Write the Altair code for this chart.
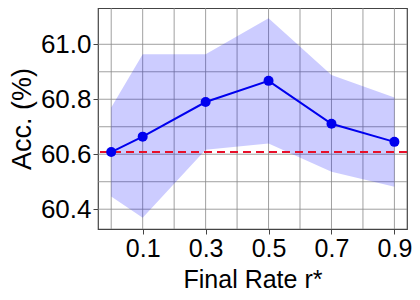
import altair as alt
import pandas as pd

rates = [0.0, 0.1, 0.3, 0.5, 0.7, 0.9]
acc = [60.608, 60.664, 60.790, 60.867, 60.711, 60.645]
upper = [60.770, 60.964, 60.964, 61.095, 60.888, 60.806]
lower = [60.446, 60.369, 60.616, 60.639, 60.536, 60.482]
baseline = 60.608

x_ticks = [0.1, 0.3, 0.5, 0.7, 0.9]
x_grid = [0.0, 0.1, 0.2, 0.3, 0.4, 0.5, 0.6, 0.7, 0.8, 0.9]
y_ticks = [60.4, 60.6, 60.8, 61.0]
y_grid = [60.4, 60.5, 60.6, 60.7, 60.8, 60.9, 61.0]

df = pd.DataFrame({"r": rates, "acc": acc, "hi": upper, "lo": lower})
gx = pd.DataFrame({"g": x_grid})
gy = pd.DataFrame({"g": y_grid})
bl = pd.DataFrame({"b": [baseline]})

xs = alt.Scale(domain=[-0.042, 0.94], nice=False, zero=False)
ys = alt.Scale(domain=[60.328, 61.132], nice=False, zero=False)

x_axis = alt.Axis(values=x_ticks, format=".1f", title="Final Rate r*", grid=False,
                  labelFontSize=25, titleFontSize=25, tickSize=5, labelPadding=2,
                  titlePadding=6, domain=False, tickColor="#444",
                  labelColor="black", titleColor="black", titleFontWeight="normal",
                  labelFont="Liberation Sans", titleFont="Liberation Sans")
y_axis = alt.Axis(values=y_ticks, format=".1f", title="Acc. (%)", grid=False,
                  labelFontSize=26, titleFontSize=27, tickSize=5, labelPadding=2,
                  titlePadding=4, domain=False, tickColor="#444",
                  labelColor="black", titleColor="black", titleFontWeight="normal",
                  labelFont="Liberation Sans", titleFont="Liberation Sans")

gridx = alt.Chart(gx).mark_rule(color="#888", strokeWidth=1, opacity=0.8).encode(
    x=alt.X("g:Q", scale=xs, axis=x_axis))
gridy = alt.Chart(gy).mark_rule(color="#888", strokeWidth=1, opacity=0.8).encode(
    y=alt.Y("g:Q", scale=ys, axis=y_axis))

band = alt.Chart(df).mark_area(color="#0000ff", opacity=0.2).encode(
    x=alt.X("r:Q", scale=xs), y=alt.Y("lo:Q", scale=ys), y2="hi:Q")

base_line = alt.Chart(bl).mark_rule(color="#e8102a", strokeWidth=2, strokeDash=[8, 5]).encode(
    y=alt.Y("b:Q", scale=ys))

line = alt.Chart(df).mark_line(color="#0000ee", strokeWidth=2,
                               point=alt.OverlayMarkDef(filled=True, size=100, color="#0000ee", opacity=1)).encode(
    x=alt.X("r:Q", scale=xs), y=alt.Y("acc:Q", scale=ys))

chart = alt.layer(gridx, gridy, band, base_line, line).properties(
    width=309, height=221,
    autosize=alt.AutoSizeParams(type="none"),
    padding={"left": 90, "top": 0, "right": 5, "bottom": 62},
).configure_view(stroke="#444", strokeWidth=1.2)

chart.save("out.html", embed_options={"renderer": "svg", "actions": False})
